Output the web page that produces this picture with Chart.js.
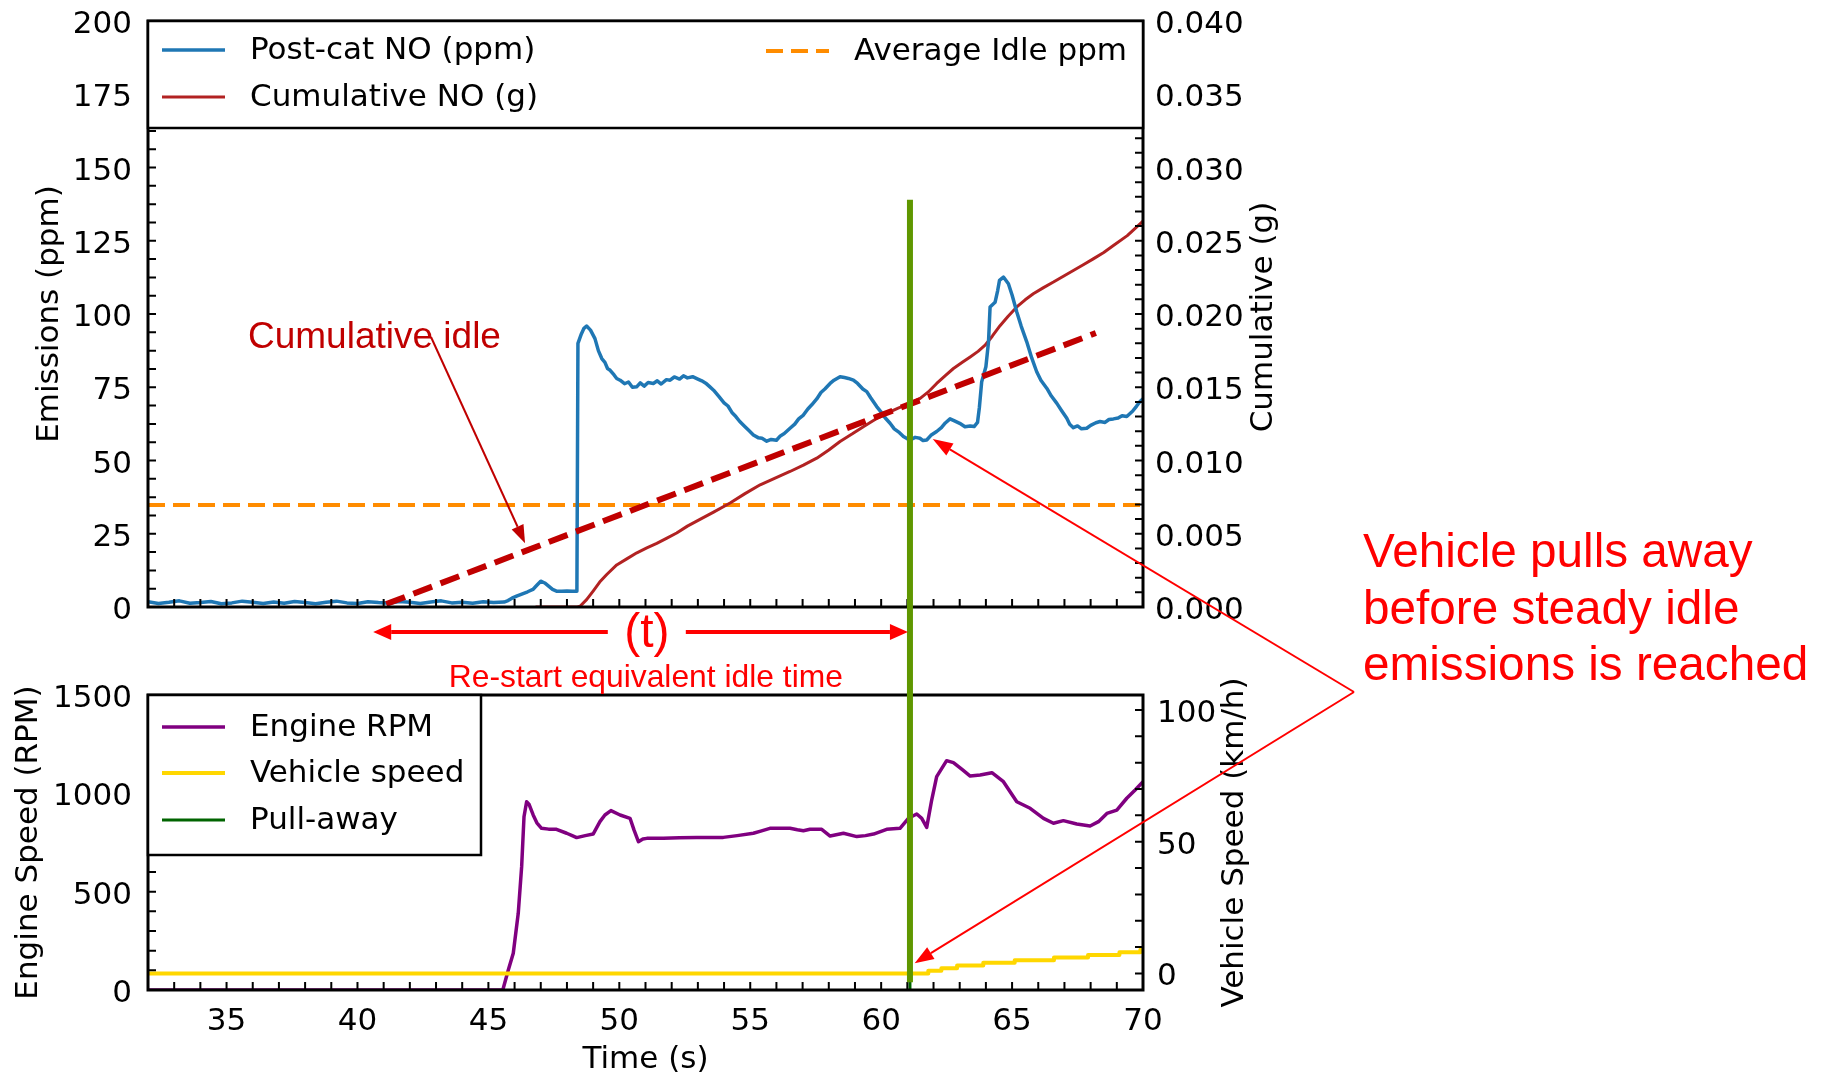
<!DOCTYPE html>
<html>
<head>
<meta charset="utf-8">
<script src="https://cdn.jsdelivr.net/npm/chart.js@4.4.1/dist/chart.umd.min.js"></script>
<style>
  html, body { margin: 0; padding: 0; background: #fff; }
  #wrap { position: relative; width: 1829px; height: 1075px; overflow: hidden; }
  canvas { position: absolute; left: 0; top: 0; }
</style>
</head>
<body>
<div id="wrap">
  <canvas id="emis" width="1829" height="1075"></canvas>
  <canvas id="engine" width="1829" height="1075"></canvas>
</div>
<script>
// ---- time axis ----
const timeMin = 32;
const timeMax = 70;
const timeTicks = [35, 40, 45, 50, 55, 60, 65, 70];
const timeTickLabels = ['35', '40', '45', '50', '55', '60', '65', '70'];

// ---- emissions panel axes ----
const ppmTicks = [0, 25, 50, 75, 100, 125, 150, 175, 200];
const ppmTickLabels = ['0', '25', '50', '75', '100', '125', '150', '175', '200'];
const gramTicks = [0, 0.005, 0.010, 0.015, 0.020, 0.025, 0.030, 0.035, 0.040];
const gramTickLabels = ['0.000', '0.005', '0.010', '0.015', '0.020', '0.025', '0.030', '0.035', '0.040'];

// ---- engine panel axes ----
const rpmTicks = [0, 500, 1000, 1500];
const rpmTickLabels = ['0', '500', '1000', '1500'];
const speedTicks = [0, 50, 100];
const speedTickLabels = ['0', '50', '100'];
const speedMin = -6.3;
const speedMax = 105.7;

// ---- post-cat NO concentration (ppm) ----
const noTime = [
  32.0, 32.4, 32.8, 33.2, 33.6, 34.0, 34.4, 34.8, 35.2, 35.6, 36.0, 36.4, 36.8, 37.2, 37.6, 38.0, 38.4, 38.8,
  39.2, 39.6, 40.0, 40.4, 40.8, 41.2, 41.6, 42.0, 42.4, 42.8, 43.2, 43.6, 44.0, 44.4, 44.8, 45.2, 45.6,
  45.75, 45.9, 46.1, 46.3, 46.5, 46.7, 46.85, 47.0, 47.15, 47.3, 47.45, 47.6, 47.8, 48.0, 48.2, 48.38,
  48.42, 48.55, 48.65, 48.75, 48.9, 49.07, 49.2, 49.33, 49.45, 49.55, 49.65, 49.8, 49.9, 50.03, 50.2, 50.35,
  50.5, 50.67, 50.8, 50.95, 51.1, 51.3, 51.45, 51.6, 51.8, 51.94, 52.1, 52.3, 52.45, 52.6, 52.8, 53.0,
  53.15, 53.3, 53.45, 53.6, 53.8, 54.0, 54.15, 54.3, 54.45, 54.6, 54.8, 54.95, 55.12, 55.3, 55.45, 55.63,
  55.8, 56.0, 56.15, 56.3, 56.52, 56.7, 56.85, 57.03, 57.2, 57.35, 57.54, 57.7, 57.85, 58.05, 58.2, 58.43,
  58.6, 58.75, 58.94, 59.1, 59.3, 59.45, 59.6, 59.83, 60.0, 60.15, 60.34, 60.5, 60.7, 60.85, 61.0, 61.1,
  61.3, 61.48, 61.6, 61.74, 61.9, 62.12, 62.3, 62.45, 62.63, 62.8, 63.0, 63.2, 63.4, 63.55, 63.68, 63.75,
  63.84, 64.0, 64.1, 64.16, 64.35, 64.45, 64.52, 64.67, 64.86, 65.0, 65.18, 65.35, 65.56, 65.75, 65.94,
  66.1, 66.33, 66.5, 66.71, 66.9, 67.09, 67.2, 67.34, 67.5, 67.65, 67.85, 68.0, 68.2, 68.36, 68.55, 68.7,
  68.87, 69.05, 69.2, 69.38, 69.6, 69.75, 69.9, 70.0
];
const noPpm = [
  1.8, 1.2, 1.6, 2.1, 1.3, 1.5, 1.9, 1.1, 1.4, 2.0, 1.6, 1.2, 1.7, 1.3, 1.9, 1.5, 1.1, 1.6,
  2.0, 1.4, 1.2, 1.8, 1.5, 1.3, 1.9, 1.6, 1.2, 1.7, 2.1, 1.4, 1.6, 1.3, 1.8, 1.5, 1.7,
  2.2, 3.0, 3.8, 4.5, 5.2, 6.0, 7.4, 8.8, 8.2, 7.1, 6.0, 5.4, 5.4, 5.5, 5.4, 5.4,
  90.0, 93.2, 95.1, 95.9, 94.5, 91.6, 87.5, 84.8, 83.5, 81.4, 80.8, 79.2, 78.0, 77.4, 76.2, 76.8,
  75.0, 75.2, 76.5, 75.4, 76.6, 76.3, 77.2, 76.1, 77.6, 77.4, 78.5, 77.8, 78.9, 78.2, 78.6, 77.8,
  77.2, 76.4, 75.2, 74.0, 71.9, 69.7, 68.6, 66.4, 65.0, 63.3, 61.5, 60.2, 58.7, 57.8, 57.6, 56.6,
  57.2, 56.9, 58.4, 59.2, 61.0, 62.4, 64.2, 65.5, 67.6, 69.0, 71.0, 73.2, 74.4, 76.3, 77.4, 78.6,
  78.3, 78.0, 77.4, 76.3, 74.4, 73.5, 71.4, 68.4, 66.5, 64.6, 62.7, 60.8, 59.5, 58.2, 57.4, 57.0,
  57.9, 57.6, 56.8, 57.0, 58.6, 59.9, 61.2, 62.8, 64.2, 63.5, 62.7, 61.5, 61.8, 61.6, 63.0, 68.0,
  76.9, 82.0, 90.5, 102.4, 104.0, 108.0, 111.5, 112.6, 110.3, 106.5, 100.7, 95.8, 90.5, 85.0, 80.3,
  77.4, 74.6, 72.0, 69.5, 66.9, 64.4, 62.4, 61.2, 61.8, 60.8, 61.0, 62.0, 62.9, 63.3, 63.0, 64.0,
  64.2, 64.5, 65.3, 65.0, 66.8, 68.5, 70.3, 71.0
];

// ---- cumulative NO mass (g) ----
const cumTime = [
  46.8, 48.4, 48.5, 48.75, 49.0, 49.25, 49.52, 49.9, 50.3, 50.67, 51.05, 51.43, 51.8, 52.19, 52.6, 53.08,
  53.6, 54.23, 54.8, 55.38, 55.95, 56.52, 57.03, 57.54, 58.0, 58.43, 58.9, 59.32, 59.75, 60.21, 60.65,
  61.1, 61.49, 61.8, 62.12, 62.45, 62.76, 63.1, 63.4, 63.7, 63.97, 64.25, 64.54, 64.85, 65.18, 65.5,
  65.81, 66.2, 66.58, 66.96, 67.34, 67.72, 68.1, 68.5, 68.87, 69.4, 69.95, 70.0
];
const cumGrams = [
  0, 0, 0.00005, 0.0005, 0.00109, 0.0017, 0.00222, 0.00287, 0.0033, 0.0037, 0.00403, 0.00434, 0.00468, 0.00505, 0.00552, 0.00598,
  0.00648, 0.0071, 0.00774, 0.00834, 0.0088, 0.00925, 0.00968, 0.01016, 0.01072, 0.0113, 0.01182, 0.01231, 0.01278, 0.01322, 0.01358,
  0.0139, 0.01424, 0.01468, 0.01526, 0.0158, 0.01628, 0.0167, 0.01707, 0.01745, 0.01787, 0.0185, 0.0192, 0.01985, 0.02048, 0.02097,
  0.02138, 0.0218, 0.02218, 0.02258, 0.02297, 0.02336, 0.02376, 0.0242, 0.02467, 0.02535, 0.02626, 0.02633
];

// ---- average idle level and cumulative idle trend (ppm) ----
const avgIdlePpm = 34.8;
const idleTrendTime = [41.1, 68.2];
const idleTrendPpm = [1.0, 93.5];

// ---- engine speed (RPM) ----
const rpmTime = [
  32.0, 45.55, 45.76, 45.95, 46.14, 46.27, 46.36, 46.46, 46.55, 46.71, 46.85, 47.03, 47.3, 47.6, 47.99, 48.2,
  48.37, 48.7, 49.0, 49.26, 49.45, 49.68, 50.03, 50.41, 50.56, 50.73, 50.9, 51.05, 51.68, 52.3, 52.96, 53.97,
  54.5, 55.12, 55.4, 55.75, 56.52, 56.8, 57.03, 57.28, 57.73, 58.05, 58.56, 59.07, 59.4, 59.71, 60.21, 60.72,
  61.04, 61.36, 61.55, 61.74, 61.93, 62.12, 62.5, 62.76, 63.1, 63.4, 63.78, 64.23, 64.67, 65.18, 65.69, 66.2,
  66.58, 66.96, 67.47, 67.98, 68.3, 68.62, 69.0, 69.38, 69.7, 70.0
];
const rpmValue = [
  0, 0, 102, 187, 390, 627, 881, 957, 945, 890, 850, 822, 818, 817, 797, 785,
  775, 785, 793, 856, 890, 912, 890, 873, 814, 754, 768, 771, 771, 774, 775, 776,
  785, 797, 808, 822, 822, 815, 810, 817, 817, 783, 797, 780, 785, 793, 817, 822,
  873, 895, 873, 827, 966, 1085, 1166, 1156, 1120, 1088, 1093, 1105, 1059, 957, 924, 873,
  848, 861, 844, 834, 856, 898, 915, 975, 1017, 1059
];

// ---- vehicle speed (km/h), logged in whole-km/h steps ----
const speedTime = [32.0, 61.8, 62.3, 62.9, 63.9, 65.1, 66.6, 67.9, 69.1, 69.9, 70.0];
const speedValue = [0, 1, 2, 3, 4, 5, 6, 7, 8, 9, 9];

// ---- pull-away event ----
const pullAwayTime = 61.1;
const pullAwayTopPpm = 139;
const pullAwayBottomRpm = 40;

const FONT = '"DejaVu Sans", sans-serif';
const NOTE_FONT = '"Liberation Sans", Arial, sans-serif';
const TEXT_SIZE = 31;
const PAGE_W = 1829, PAGE_H = 1075;

const pts = (xs, ys) => xs.map((x, i) => ({ x, y: ys[i] }));

// fixed box sizes so both panels share the same horizontal extent
function pinScale(s, size) {
  if (s.isHorizontal()) s.height = size; else s.width = size;
  s.paddingTop = 0; s.paddingBottom = 0; s.paddingLeft = 0; s.paddingRight = 0;
}

function valueAxis(position, min, max, values, labels, pad, width) {
  return {
    type: 'linear', position, min, max,
    afterBuildTicks: s => { s.ticks = values.map(v => ({ value: v })); },
    afterFit: s => pinScale(s, width),
    grid: { display: false, drawTicks: false },
    border: { display: false },
    ticks: {
      autoSkip: false, padding: pad, color: '#000', labelOffset: 4,
      font: { family: 'DejaVu Sans', size: TEXT_SIZE },
      callback: (v, i) => labels[i]
    }
  };
}

// inward tick marks plus the black frame around the plotting area
function drawTicksAndFrame(chart, marks) {
  const { ctx, chartArea: a } = chart;
  ctx.save();
  ctx.strokeStyle = '#000';
  ctx.lineWidth = 2;
  for (const m of marks) {
    const s = chart.scales[m.scale];
    const n = Math.round((m.to - m.from) / m.step);
    ctx.beginPath();
    for (let i = 0; i <= n; i++) {
      const p = s.getPixelForValue(m.from + i * m.step);
      if (m.side === 'bottom') { ctx.moveTo(p, a.bottom); ctx.lineTo(p, a.bottom - 8); }
      else if (m.side === 'left') { ctx.moveTo(a.left, p); ctx.lineTo(a.left + 8, p); }
      else { ctx.moveTo(a.right, p); ctx.lineTo(a.right - 8, p); }
    }
    ctx.stroke();
  }
  ctx.lineWidth = 3;
  ctx.strokeRect(a.left, a.top, a.right - a.left, a.bottom - a.top);
  ctx.restore();
}

function legendSample(ctx, ds, x0, x1, y) {
  ctx.save();
  ctx.strokeStyle = ds.borderColor;
  ctx.lineWidth = Math.min(ds.borderWidth, 4);
  ctx.setLineDash(ds.borderDash || []);
  ctx.beginPath(); ctx.moveTo(x0, y); ctx.lineTo(x1, y); ctx.stroke();
  ctx.restore();
}

function drawLegend(chart, box, entries) {
  const { ctx, chartArea: a } = chart;
  ctx.save();
  ctx.fillStyle = '#fff';
  ctx.fillRect(a.left, a.top, box.w, box.h);
  ctx.strokeStyle = '#000';
  ctx.lineWidth = 2.5;
  ctx.strokeRect(a.left, a.top, box.w, box.h);
  ctx.font = TEXT_SIZE + 'px ' + FONT;
  ctx.fillStyle = '#000';
  ctx.textBaseline = 'middle';
  ctx.textAlign = 'left';
  for (const e of entries) {
    const ds = chart.data.datasets[e.index];
    legendSample(ctx, ds, a.left + e.dx, a.left + e.dx + 63, a.top + e.dy);
    ctx.fillText(ds.label, a.left + e.dx + 88, a.top + e.dy + 1);
  }
  ctx.restore();
}

function drawTitle(ctx, text, x, y, rotate) {
  ctx.save();
  ctx.translate(x, y);
  if (rotate) ctx.rotate(-Math.PI / 2);
  ctx.font = TEXT_SIZE + 'px ' + FONT;
  ctx.fillStyle = '#000';
  ctx.textAlign = 'center';
  ctx.textBaseline = 'middle';
  ctx.fillText(text, 0, 0);
  ctx.restore();
}

function arrow(ctx, x1, y1, x2, y2, color, width, headLen, headWid) {
  const ang = Math.atan2(y2 - y1, x2 - x1);
  const c = Math.cos(ang), s = Math.sin(ang);
  const bx = x2 - headLen * c, by = y2 - headLen * s;
  ctx.save();
  ctx.strokeStyle = color; ctx.fillStyle = color; ctx.lineWidth = width;
  ctx.beginPath(); ctx.moveTo(x1, y1); ctx.lineTo(bx, by); ctx.stroke();
  ctx.beginPath();
  ctx.moveTo(x2, y2);
  ctx.lineTo(bx + headWid / 2 * s, by - headWid / 2 * c);
  ctx.lineTo(bx - headWid / 2 * s, by + headWid / 2 * c);
  ctx.closePath(); ctx.fill();
  ctx.restore();
}

const emisDecor = {
  id: 'emisDecor',
  afterDatasetsDraw(chart) {
    drawTicksAndFrame(chart, [
      { scale: 'x', side: 'bottom', from: 33, to: 69, step: 1 },
      { scale: 'y', side: 'left', from: 0, to: 200, step: 6.25 },
      { scale: 'y2', side: 'right', from: 0, to: 0.04, step: 0.001 }
    ]);
    const a = chart.chartArea;
    drawLegend(chart, { w: a.right - a.left, h: 107 }, [
      { index: 0, dx: 14, dy: 29 },
      { index: 1, dx: 14, dy: 76 },
      { index: 2, dx: 618, dy: 30 }
    ]);
    const mid = (a.top + a.bottom) / 2;
    drawTitle(chart.ctx, 'Emissions (ppm)', a.left - 98, mid, true);
    drawTitle(chart.ctx, 'Cumulative (g)', a.right + 121, mid + 3, true);
  }
};

const emisChart = new Chart(document.getElementById('emis'), {
  type: 'line',
  data: {
    datasets: [
      { label: 'Post-cat NO (ppm)', data: pts(noTime, noPpm), yAxisID: 'y', borderColor: '#1f77b4', borderWidth: 3.5, order: 1 },
      { label: 'Cumulative NO (g)', data: pts(cumTime, cumGrams), yAxisID: 'y2', borderColor: '#b22222', borderWidth: 3, order: 2 },
      { label: 'Average Idle ppm', data: pts([timeMin, timeMax], [avgIdlePpm, avgIdlePpm]), yAxisID: 'y', borderColor: '#ff8c00', borderWidth: 4, borderDash: [17, 8], order: 3 },
      { label: 'Cumulative idle', data: pts(idleTrendTime, idleTrendPpm), yAxisID: 'y', borderColor: '#c00000', borderWidth: 6, borderDash: [20, 9], order: 0 }
    ]
  },
  options: {
    responsive: false, animation: false, devicePixelRatio: 1, events: [],
    elements: { point: { radius: 0, hoverRadius: 0 }, line: { tension: 0, fill: false, borderJoinStyle: 'round' } },
    layout: { padding: { top: 21, left: 0, right: 0, bottom: 0 } },
    plugins: { legend: { display: false }, tooltip: { enabled: false } },
    scales: {
      x: {
        type: 'linear', min: timeMin, max: timeMax,
        afterFit: s => pinScale(s, PAGE_H - 607),
        grid: { display: false, drawTicks: false }, border: { display: false }, ticks: { display: false }
      },
      y: valueAxis('left', 0, 200, ppmTicks, ppmTickLabels, 16, 148),
      y2: valueAxis('right', 0, 0.04, gramTicks, gramTickLabels, 12, PAGE_W - 1143)
    }
  },
  plugins: [emisDecor]
});

const engineDecor = {
  id: 'engineDecor',
  afterDraw(chart) {
    const ctx = chart.ctx;
    drawTicksAndFrame(chart, [
      { scale: 'x', side: 'bottom', from: 33, to: 69, step: 1 },
      { scale: 'y', side: 'left', from: 0, to: 1500, step: 100 },
      { scale: 'y2', side: 'right', from: 0, to: 100, step: 10 }
    ]);
    drawLegend(chart, { w: 333, h: 160 }, [
      { index: 0, dx: 14, dy: 32 },
      { index: 1, dx: 14, dy: 78 },
      { index: 2, dx: 14, dy: 125 }
    ]);
    const b = chart.chartArea;
    const bm = (b.top + b.bottom) / 2;
    drawTitle(ctx, 'Engine Speed (RPM)', b.left - 119, bm, true);
    drawTitle(ctx, 'Vehicle Speed (km/h)', b.right + 92, bm, true);
    drawTitle(ctx, 'Time (s)', (b.left + b.right) / 2, b.bottom + 70, false);

    // annotations spanning both panels
    const A = emisChart, ea = A.chartArea;
    const tx = t => chart.scales.x.getPixelForValue(t);
    const ppmY = v => A.scales.y.getPixelForValue(v);
    const rpmY = v => chart.scales.y.getPixelForValue(v);
    const kmhY = v => chart.scales.y2.getPixelForValue(v);

    // "Cumulative idle" callout
    ctx.save();
    ctx.font = '37px ' + NOTE_FONT;
    ctx.fillStyle = '#c00000';
    ctx.textAlign = 'left';
    ctx.textBaseline = 'alphabetic';
    ctx.fillText('Cumulative idle', ea.left + 100, ea.top + 327);
    ctx.restore();
    arrow(ctx, ea.left + 283, ea.top + 316, tx(46.4), ppmY(21.8), '#c00000', 2, 18, 13);

    // pull-away marker
    const gx = tx(pullAwayTime);
    ctx.save();
    ctx.strokeStyle = '#5f9700';
    ctx.lineWidth = 6;
    ctx.beginPath();
    ctx.moveTo(gx, ppmY(pullAwayTopPpm));
    ctx.lineTo(gx, rpmY(pullAwayBottomRpm));
    ctx.stroke();
    ctx.restore();

    // equivalent idle time span (t)
    const ay = ea.bottom + 25;
    const labelX = tx(51.05);
    arrow(ctx, labelX - 39, ay, tx(40.6), ay, '#ff0000', 4, 18, 16);
    arrow(ctx, labelX + 39, ay, gx - 2, ay, '#ff0000', 4, 18, 16);
    ctx.save();
    ctx.fillStyle = '#ff0000';
    ctx.textAlign = 'center';
    ctx.textBaseline = 'alphabetic';
    ctx.font = '48px ' + NOTE_FONT;
    ctx.fillText('(t)', labelX, ay + 15);
    ctx.font = '31.8px ' + NOTE_FONT;
    ctx.fillText('Re-start equivalent idle time', labelX - 1, ea.bottom + 80);
    ctx.restore();

    // pull-away explanation with two pointers
    const vx = b.right + 211, vy = b.top - 3;
    arrow(ctx, vx, vy, tx(61.97), ppmY(57.3), '#ff0000', 2, 20, 14);
    arrow(ctx, vx, vy, tx(61.28), kmhY(3.9), '#ff0000', 2, 19, 14);
    ctx.save();
    ctx.fillStyle = '#ff0000';
    ctx.font = '47.7px ' + NOTE_FONT;
    ctx.textAlign = 'left';
    ctx.textBaseline = 'alphabetic';
    const lines = ['Vehicle pulls away', 'before steady idle', 'emissions is reached'];
    lines.forEach((t, i) => ctx.fillText(t, b.right + 220, b.top - 128 + i * 56.5));
    ctx.restore();
  }
};

new Chart(document.getElementById('engine'), {
  type: 'line',
  data: {
    datasets: [
      { label: 'Engine RPM', data: pts(rpmTime, rpmValue), yAxisID: 'y', borderColor: '#800080', borderWidth: 3.5, order: 1 },
      { label: 'Vehicle speed', data: pts(speedTime, speedValue), yAxisID: 'y2', borderColor: '#ffd700', borderWidth: 4, stepped: 'before', order: 0 },
      { label: 'Pull-away', data: pts([pullAwayTime, pullAwayTime], [0, 1500]), yAxisID: 'y', borderColor: '#006400', borderWidth: 3, order: 2 }
    ]
  },
  options: {
    responsive: false, animation: false, devicePixelRatio: 1, events: [],
    elements: { point: { radius: 0, hoverRadius: 0 }, line: { tension: 0, fill: false, borderJoinStyle: 'round' } },
    layout: { padding: { top: 695, left: 0, right: 0, bottom: 0 } },
    plugins: { legend: { display: false }, tooltip: { enabled: false } },
    scales: {
      x: {
        type: 'linear', min: timeMin, max: timeMax,
        afterBuildTicks: s => { s.ticks = timeTicks.map(v => ({ value: v })); },
        afterFit: s => pinScale(s, PAGE_H - 990),
        grid: { display: false, drawTicks: false }, border: { display: false },
        ticks: {
          autoSkip: false, maxRotation: 0, padding: 13, color: '#000',
          font: { family: 'DejaVu Sans', size: TEXT_SIZE },
          callback: (v, i) => timeTickLabels[i]
        }
      },
      y: valueAxis('left', 0, 1500, rpmTicks, rpmTickLabels, 16, 148),
      y2: valueAxis('right', speedMin, speedMax, speedTicks, speedTickLabels, 14, PAGE_W - 1143)
    }
  },
  plugins: [engineDecor]
});
</script>
</body>
</html>
